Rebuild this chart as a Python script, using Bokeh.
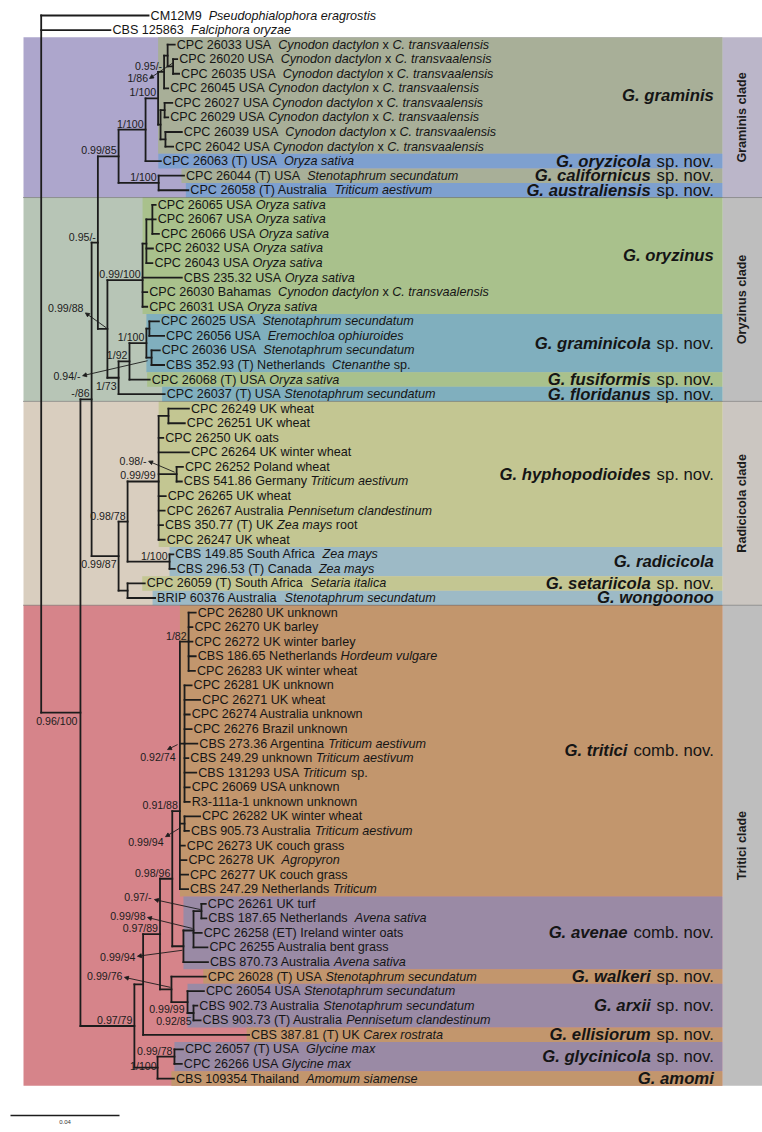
from bokeh.plotting import figure
from bokeh.models import Range1d, ColumnDataSource, Arrow, NormalHead
from bokeh.core.properties import value
from bokeh.embed import file_html
from bokeh.resources import INLINE
import math

# ---------------- DATA ----------------
# internal nodes: name, parent, distance from root (substitutions / site)
node_names = ["R", "A", "B", "C", "G", "G1", "G2", "Ga", "Ga1", "Ga2", "Gb", "Gb1", "Gb2", "Gc",
              "O", "Oz", "S1", "S2", "F", "F2", "Gm", "Gm1", "Gm2",
              "Rad", "Rh", "Hy", "Hy1", "Hy2", "Rr", "SW",
              "T", "T1", "T2", "T3", "Tt", "Tt1", "Tt2", "Tt3", "Tav", "Tav1", "Tav2",
              "Tw", "Ta", "Ta2", "Tg", "Tgl"]
node_parents = [None, "R", "A", "B", "C", "G", "G1", "G2", "Ga", "Ga1", "G2", "Gb", "Gb", "G",
                "C", "O", "Oz", "S1", "O", "F", "F2", "Gm", "Gm",
                "B", "Rad", "Rh", "Hy", "Hy", "Rh", "Rad",
                "A", "T", "T1", "T2", "T3", "Tt", "Tt", "Tt", "T3", "Tav", "Tav1",
                "T2", "Tw", "Ta", "T", "Tg"]
node_depths = [0.0, 0.0144, 0.0185, 0.0208, 0.0284, 0.0383, 0.0429, 0.0451, 0.0464, 0.0484, 0.0438, 0.0453, 0.0456, 0.0431,
               0.0243, 0.0372, 0.0386, 0.0408, 0.0284, 0.0324, 0.0386, 0.0397, 0.0405,
               0.0284, 0.0317, 0.0431, 0.0467, 0.0497, 0.0471, 0.0317,
               0.0342, 0.0374, 0.0436, 0.0481, 0.0509, 0.0541, 0.0526, 0.0526, 0.0522, 0.0559, 0.0588,
               0.0478, 0.0537, 0.0559, 0.0427, 0.0489]

# leaves (top to bottom); *...* marks italic
leaf_labels = [
    "CM12M9  *Pseudophialophora eragrostis*",
    "CBS 125863  *Falciphora oryzae*",
    "CPC 26033 USA  *Cynodon dactylon* x *C. transvaalensis*",
    "CPC 26020 USA  *Cynodon dactylon* x *C. transvaalensis*",
    "CPC 26035 USA  *Cynodon dactylon* x *C. transvaalensis*",
    "CPC 26045 USA *Cynodon dactylon* x *C. transvaalensis*",
    "CPC 26027 USA *Cynodon dactylon* x *C. transvaalensis*",
    "CPC 26029 USA *Cynodon dactylon* x *C. transvaalensis*",
    "CPC 26039 USA  *Cynodon dactylon* x *C. transvaalensis*",
    "CPC 26042 USA *Cynodon dactylon* x *C. transvaalensis*",
    "CPC 26063 (T) USA  *Oryza sativa*",
    "CPC 26044 (T) USA  *Stenotaphrum secundatum*",
    "CPC 26058 (T) Australia  *Triticum aestivum*",
    "CPC 26065 USA *Oryza sativa*",
    "CPC 26067 USA *Oryza sativa*",
    "CPC 26066 USA *Oryza sativa*",
    "CPC 26032 USA *Oryza sativa*",
    "CPC 26043 USA *Oryza sativa*",
    "CBS 235.32 USA *Oryza sativa*",
    "CPC 26030 Bahamas  *Cynodon dactylon* x *C. transvaalensis*",
    "CPC 26031 USA *Oryza sativa*",
    "CPC 26025 USA  *Stenotaphrum secundatum*",
    "CPC 26056 USA  *Eremochloa ophiuroides*",
    "CPC 26036 USA  *Stenotaphrum secundatum*",
    "CBS 352.93 (T)  Netherlands *Ctenanthe* sp.",
    "CPC 26068 (T) USA *Oryza sativa*",
    "CPC 26037 (T) USA *Stenotaphrum secundatum*",
    "CPC 26249 UK wheat",
    "CPC 26251 UK wheat",
    "CPC 26250 UK oats",
    "CPC 26264 UK winter wheat",
    "CPC 26252 Poland wheat",
    "CBS 541.86 Germany *Triticum aestivum*",
    "CPC 26265 UK wheat",
    "CPC 26267 Australia *Pennisetum clandestinum*",
    "CBS 350.77 (T) UK *Zea mays* root",
    "CPC 26247 UK wheat",
    "CBS 149.85 South Africa  *Zea mays*",
    "CBS 296.53 (T) Canada  *Zea mays*",
    "CPC 26059 (T) South Africa  *Setaria italica*",
    "BRIP 60376 Australia  *Stenotaphrum secundatum*",
    "CPC 26280 UK unknown",
    "CPC 26270 UK  barley",
    "CPC 26272 UK winter barley",
    "CBS 186.65 Netherlands *Hordeum vulgare*",
    "CPC 26283 UK winter wheat",
    "CPC 26281 UK unknown",
    "CPC 26271 UK wheat",
    "CPC 26274 Australia unknown",
    "CPC 26276 Brazil unknown",
    "CBS 273.36 Argentina *Triticum aestivum*",
    "CBS 249.29 unknown *Triticum aestivum*",
    "CBS 131293 USA *Triticum* sp.",
    "CPC 26069 USA unknown",
    "R3-111a-1 unknown unknown",
    "CPC 26282 UK winter wheat",
    "CBS 905.73 Australia *Triticum aestivum*",
    "CPC 26273 UK couch grass",
    "CPC 26278 UK  *Agropyron*",
    "CPC 26277 UK  couch grass",
    "CBS 247.29 Netherlands *Triticum*",
    "CPC 26261 UK  turf",
    "CBS 187.65 Netherlands  *Avena sativa*",
    "CPC 26258 (ET) Ireland  winter oats",
    "CPC 26255 Australia  bent grass",
    "CBS 870.73 Australia *Avena sativa*",
    "CPC 26028 (T) USA *Stenotaphrum secundatum*",
    "CPC 26054 USA *Stenotaphrum secundatum*",
    "CBS 902.73 Australia *Stenotaphrum secundatum*",
    "CBS 903.73 (T) Australia *Pennisetum clandestinum*",
    "CBS 387.81 (T) UK *Carex rostrata*",
    "CPC 26057 (T) USA  *Glycine max*",
    "CPC 26266 USA *Glycine max*",
    "CBS 109354 Thailand  *Amomum siamense*",
]
leaf_parents = ["R", "R", "Ga1", "Ga2", "Ga2", "Ga", "Gb1", "Gb1", "Gb2", "Gb2", "G1", "Gc", "Gc",
                "S2", "S2", "S2", "S1", "S1", "Oz", "Oz", "Oz", "Gm1", "Gm1", "Gm2", "Gm2", "F2", "F",
                "Hy1", "Hy1", "Hy", "Hy", "Hy2", "Hy2", "Hy", "Hy", "Hy", "Hy", "Rr", "Rr", "SW", "SW",
                "Tt1", "Tt1", "Tt1", "Tt1", "Tt1",
                "Tt2", "Tt2", "Tt2", "Tt2", "Tt2", "Tt2", "Tt2", "Tt2", "Tt2",
                "Tt3", "Tt3", "Tt", "Tt", "Tt", "Tt",
                "Tav2", "Tav2", "Tav1", "Tav1", "Tav", "Tw", "Ta", "Ta2", "Ta2", "T1", "Tgl", "Tgl", "Tg"]
leaf_depths = [0.0394, 0.0254, 0.0490, 0.0499, 0.0506, 0.0466, 0.0481, 0.0466, 0.0516, 0.0484,
               0.0439, 0.0524, 0.0540, 0.0420, 0.0420, 0.0432, 0.0410, 0.0408, 0.0516, 0.0389,
               0.0389, 0.0432, 0.0451, 0.0435, 0.0451, 0.0398, 0.0453, 0.0542, 0.0527, 0.0448,
               0.0542, 0.0520, 0.0516, 0.0457, 0.0453, 0.0447, 0.0453, 0.0485, 0.0490, 0.0380,
               0.0418, 0.0567, 0.0555, 0.0555, 0.0567, 0.0564, 0.0552, 0.0583, 0.0545, 0.0552,
               0.0573, 0.0540, 0.0569, 0.0545, 0.0545, 0.0583, 0.0542, 0.0527, 0.0533, 0.0539,
               0.0539, 0.0604, 0.0606, 0.0589, 0.0610, 0.0612, 0.0604, 0.0597, 0.0573, 0.0585,
               0.0763, 0.0520, 0.0516, 0.0487]

# support values (posterior probability / bootstrap)
support_nodes = ["Ga", "Ga2", "G2", "G1", "G", "Gc", "C", "Oz", "O", "Gm", "F2", "Gm2", "F", "B",
                 "Hy2", "Hy", "Rh", "Rr", "Rad", "A",
                 "Tt1", "Tt2", "Tt", "Tt3", "T3", "Tav2", "Tav1", "T2", "Tav", "Tw", "Ta", "Ta2",
                 "T", "Tgl", "Tg"]
support_texts = ["0.95/-", "1/86", "1/100", "1/100", "0.99/85", "1/100", "0.95/-", "0.99/100", "0.99/88",
                 "1/100", "1/92", "0.94/-", "1/73", "-/86",
                 "0.98/-", "0.99/99", "0.98/78", "1/100", "0.99/87", "0.96/100",
                 "1/82", "0.92/74", "0.91/88", "0.99/94", "0.98/96", "0.97/-", "0.99/98", "0.97/89",
                 "0.99/94", "0.99/76", "0.99/99", "0.92/85", "0.97/79", "0.99/78", "1/100"]

# species
species_names = ["G. graminis", "G. oryzicola", "G. californicus", "G. australiensis",
                 "G. oryzinus", "G. graminicola", "G. fusiformis", "G. floridanus",
                 "G. hyphopodioides", "G. radicicola", "G. setariicola", "G. wongoonoo",
                 "G. tritici", "G. avenae", "G. walkeri", "G. arxii", "G. ellisiorum",
                 "G. glycinicola", "G. amomi"]
species_suffix = ["", "sp. nov.", "sp. nov.", "sp. nov.", "", "sp. nov.", "sp. nov.", "sp. nov.",
                  "sp. nov.", "", "sp. nov.", "", "comb. nov.", "comb. nov.", "sp. nov.", "sp. nov.",
                  "sp. nov.", "sp. nov.", ""]
species_first = [2, 10, 11, 12, 13, 21, 25, 26, 27, 37, 39, 40, 41, 61, 66, 67, 70, 71, 73]
species_last = [9, 10, 11, 12, 20, 24, 25, 26, 36, 38, 39, 40, 60, 65, 66, 69, 70, 72, 73]
species_mrca = ["G2", None, None, None, "Oz", "Gm", None, None, "Hy", "Rr", None, None,
                "Tt", "Tav", None, "Ta", None, "Tgl", None]

# clades
clade_names = ["Graminis clade", "Oryzinus clade", "Radicicola clade", "Tritici clade"]
clade_first = [2, 13, 27, 41]
clade_last = [12, 26, 40, 73]

scale_value = 0.04

# ---------------- STYLE / LAYOUT ----------------
species_colors = ["#A8AF98", "#7EA0CF", "#A8AF98", "#7EA0CF", "#A9C18C", "#80AFBE", "#A9C18C", "#80AFBE",
                  "#C3C692", "#9DBAC6", "#C3C692", "#9DBAC6", "#C2966D", "#9A8AA5", "#C2966D", "#9A8AA5",
                  "#C2966D", "#9A8AA5", "#C2966D"]
clade_bg = ["#ADA6CC", "#B7C5B6", "#D9CEBF", "#D6848A"]
clade_strip = ["#BBB6C9", "#BEBEBE", "#CBC6C1", "#BEBEBE"]

PX_PER_X = 2725.0     # screen px per substitution unit
ROW_PX = 14.562       # screen px per leaf row
ROOT_PX = 40.7        # page x of the root
ROW0_PX = 15.0        # page y of first leaf
W, H = 762, 1132
OX, OY = 0, 0          # page position of the plot's top-left corner


def X(px):
    return (px - ROOT_PX) / PX_PER_X


def Y(py):
    return (py - ROW0_PX) / ROW_PX


REG = {' ': 278, '.': 278, '-': 333, '(': 333, ')': 333, '/': 278, ',': 278,
       'A': 667, 'B': 667, 'C': 722, 'D': 722, 'E': 667, 'F': 611, 'G': 778, 'H': 722, 'I': 278,
       'J': 500, 'K': 667, 'L': 556, 'M': 833, 'N': 722, 'O': 778, 'P': 667, 'Q': 778, 'R': 722,
       'S': 667, 'T': 611, 'U': 722, 'V': 667, 'W': 944, 'X': 667, 'Y': 667, 'Z': 611,
       'a': 556, 'b': 556, 'c': 500, 'd': 556, 'e': 556, 'f': 278, 'g': 556, 'h': 556, 'i': 222,
       'j': 222, 'k': 500, 'l': 222, 'm': 833, 'n': 556, 'o': 556, 'p': 556, 'q': 556, 'r': 333,
       's': 500, 't': 278, 'u': 556, 'v': 500, 'w': 722, 'x': 500, 'y': 500, 'z': 500}


def wid(s):
    return sum(REG.get(ch, 556) for ch in s)


def split_label(label):
    segs, cur, italic, pos, start = [], "", False, 0.0, 0.0
    for ch in label:
        if ch == "*":
            if cur:
                segs.append((cur, italic, start))
            italic = not italic
            cur, start = "", pos
            continue
        cur += ch
        pos += REG.get(ch, 556)
    if cur:
        segs.append((cur, italic, start))
    out = []
    for txt, it, st in segs:
        lead = len(txt) - len(txt.lstrip(" "))
        t = txt.strip(" ")
        if t:
            out.append((t, it, st + lead * 278))
    return out


# ---------------- TREE GEOMETRY ----------------
depth = dict(zip(node_names, node_depths))
parent = dict(zip(node_names, node_parents))
children = {n: [] for n in node_names}
for n, par in zip(node_names, node_parents):
    if par:
        children[par].append(("n", n))
for i, par in enumerate(leaf_parents):
    children[par].append(("l", i))

ypos = {}


def node_y(n):
    ys = [node_y(c) if k == "n" else float(c) for k, c in children[n]]
    ypos[n] = (sum(ys) / len(ys), min(ys), max(ys))
    return ypos[n][0]


node_y("R")

hx0, hx1, hy = [], [], []
for n in node_names:
    if parent[n]:
        hx0.append(depth[parent[n]]); hx1.append(depth[n]); hy.append(ypos[n][0])
for i, par in enumerate(leaf_parents):
    hx0.append(depth[par]); hx1.append(leaf_depths[i]); hy.append(float(i))
vx, vy0, vy1 = [], [], []
for n in node_names:
    vx.append(depth[n]); vy0.append(ypos[n][1]); vy1.append(ypos[n][2])

# ---------------- FIGURE ----------------
p = figure(width=W, height=H, output_backend="svg", toolbar_location=None,
           x_range=Range1d(X(OX), X(OX + W)), y_range=Range1d(Y(OY + H), Y(OY)),
           min_border=0)
p.xaxis.visible = False
p.yaxis.visible = False
p.xgrid.visible = False
p.ygrid.visible = False
p.outline_line_color = None
p.background_fill_color = "white"
p.border_fill_color = "white"

BOX_RIGHT = X(722)
RIGHT_EDGE = X(OX + W)
# clade backgrounds
p.quad(left=[X(23)] * 4, right=[BOX_RIGHT] * 4,
       top=[f - 0.5 for f in clade_first], bottom=[l + 0.5 for l in clade_last],
       fill_color=clade_bg, line_color=None)
# strip
p.quad(left=[BOX_RIGHT] * 4, right=[RIGHT_EDGE] * 4,
       top=[f - 0.5 for f in clade_first], bottom=[l + 0.5 for l in clade_last],
       fill_color=clade_strip, line_color=None)
# species boxes
sp_left = []
for k in range(len(species_names)):
    if species_mrca[k]:
        sp_left.append(depth[species_mrca[k]])
    else:
        sp_left.append(leaf_depths[species_first[k]] - 2.5 / PX_PER_X)
p.quad(left=sp_left, right=[BOX_RIGHT] * len(sp_left),
       top=[f - 0.5 for f in species_first], bottom=[l + 0.5 for l in species_last],
       fill_color=species_colors, line_color=None)
# dotted separators
sep_y = [l + 0.5 for l in clade_last[:-1]]
p.segment(x0=[X(23)] * len(sep_y), x1=[RIGHT_EDGE] * len(sep_y), y0=sep_y, y1=sep_y,
          line_color="#555555", line_width=1, line_dash="1 1")

# tree
TREE = "#1c1c1c"
p.segment(x0=hx0, x1=hx1, y0=hy, y1=hy, line_color=TREE, line_width=1.8, line_cap="square")
p.segment(x0=vx, x1=vx, y0=vy0, y1=vy1, line_color=TREE, line_width=1.8, line_cap="square")

# leaf labels
LEAF_FS = 12.6
norm = dict(x=[], y=[], t=[])
ital = dict(x=[], y=[], t=[])
for i, lab in enumerate(leaf_labels):
    for t, it, st in split_label(lab):
        d = ital if it else norm
        d["x"].append(leaf_depths[i] + (2.0 + st * LEAF_FS / 1000) / PX_PER_X)
        d["y"].append(float(i))
        d["t"].append(t)
for d, style in ((norm, "normal"), (ital, "italic")):
    p.text(x="x", y="y", text="t", source=ColumnDataSource(d), text_font=value("Liberation Sans"),
           text_font_size=f"{LEAF_FS}px", text_font_style=style, text_align="left",
           text_baseline="middle", text_color="#151515")

# support labels
default_off = (-2, -6)
label_off = {"Ga2": (-25, 12), "O": (-24, -21), "Gm2": (-71, 18), "F": (-2, 8), "Hy2": (-30, -13),
             "Hy": (-3, -6), "Rad": (-2, 7.5), "A": (-3, 8), "Tt2": (-9, 13), "Tt3": (-21, 18),
             "Tav2": (-50, -13.6), "Tav1": (-48, -14), "Tav": (-48, 11), "Tw": (-49, -13),
             "Ta": (-3, 6.5), "Ta2": (-2, 8.5), "Tg": (-1, -2)}
arrow_off = {"Ga2": (0.5, -4, -23.5, 12), "O": (-1, -1, -22, -16), "Gm2": (-4, 3, -69, 18),
             "Hy2": (-2, -2, -28, -13), "Tt2": (-7, 1, -17, 6), "Tt3": (-4, 4, -19, 13),
             "Tav2": (-1, -1.5, -47, -11.5), "Tav1": (-1, -2, -46, -13), "Tav": (-1, 4, -46, 10),
             "Tw": (-1, -2, -47, -12)}
sx, sy, st_ = [], [], []
for n, t in zip(support_nodes, support_texts):
    dx, dy = label_off.get(n, default_off)
    sx.append(depth[n] + dx / PX_PER_X)
    sy.append(ypos[n][0] + dy / ROW_PX)
    st_.append(t)
p.text(x=sx, y=sy, text=st_, text_font=value("Liberation Sans"), text_font_size="10.6px",
       text_align="right", text_baseline="middle", text_color="#1c1c1c")
ax0, ay0, ax1, ay1 = [], [], [], []
for n in support_nodes:
    if n in arrow_off:
        a, b, c, d = arrow_off[n]
        ax0.append(depth[n] + a / PX_PER_X); ay0.append(ypos[n][0] + b / ROW_PX)
        ax1.append(depth[n] + c / PX_PER_X); ay1.append(ypos[n][0] + d / ROW_PX)
p.add_layout(Arrow(end=NormalHead(size=4, fill_color="#1c1c1c", line_color="#1c1c1c", line_width=0.8),
                   source=ColumnDataSource(dict(x0=ax0, y0=ay0, x1=ax1, y1=ay1)),
                   x_start="x0", y_start="y0", x_end="x1", y_end="y1",
                   line_color="#1c1c1c", line_width=0.9))

# species labels
SP_FS = 16.7
SP_RIGHT = X(713.3)
bx, by, bt, nx, ny, nt = [], [], [], [], [], []
for k, nm in enumerate(species_names):
    yc = (species_first[k] + species_last[k]) / 2.0
    suf = species_suffix[k]
    if suf:
        nx.append(SP_RIGHT); ny.append(yc); nt.append(suf)
        bx.append(SP_RIGHT - (wid(" " + suf) * SP_FS / 1000) / PX_PER_X)
    else:
        bx.append(SP_RIGHT)
    by.append(yc); bt.append(nm)
p.text(x=bx, y=by, text=bt, text_font=value("Liberation Sans"), text_font_size=f"{SP_FS}px",
       text_font_style="bold italic", text_align="right", text_baseline="middle", text_color="#151515")
p.text(x=nx, y=ny, text=nt, text_font=value("Liberation Sans"), text_font_size=f"{SP_FS}px",
       text_font_style="normal", text_align="right", text_baseline="middle", text_color="#151515")

# clade labels (vertical)
p.text(x=[X(741.7)] * 4, y=[(f + l) / 2.0 for f, l in zip(clade_first, clade_last)], text=clade_names,
       angle=math.pi / 2, text_font=value("Liberation Sans"), text_font_size="12.6px",
       text_font_style="bold", text_align="center", text_baseline="middle", text_color="#1c1c1c")

# scale bar
sb_x0 = X(10)
p.segment(x0=[sb_x0], x1=[sb_x0 + scale_value], y0=[Y(1115)], y1=[Y(1115)], line_color=TREE, line_width=1.5)
p.text(x=[sb_x0 + scale_value / 2], y=[Y(1121.5)], text=[f"{scale_value:.2f}"],
       text_font=value("Liberation Sans"), text_font_size="6px", text_align="center",
       text_baseline="middle", text_color="#333333")

open("out.html", "w").write(file_html(p, INLINE))
